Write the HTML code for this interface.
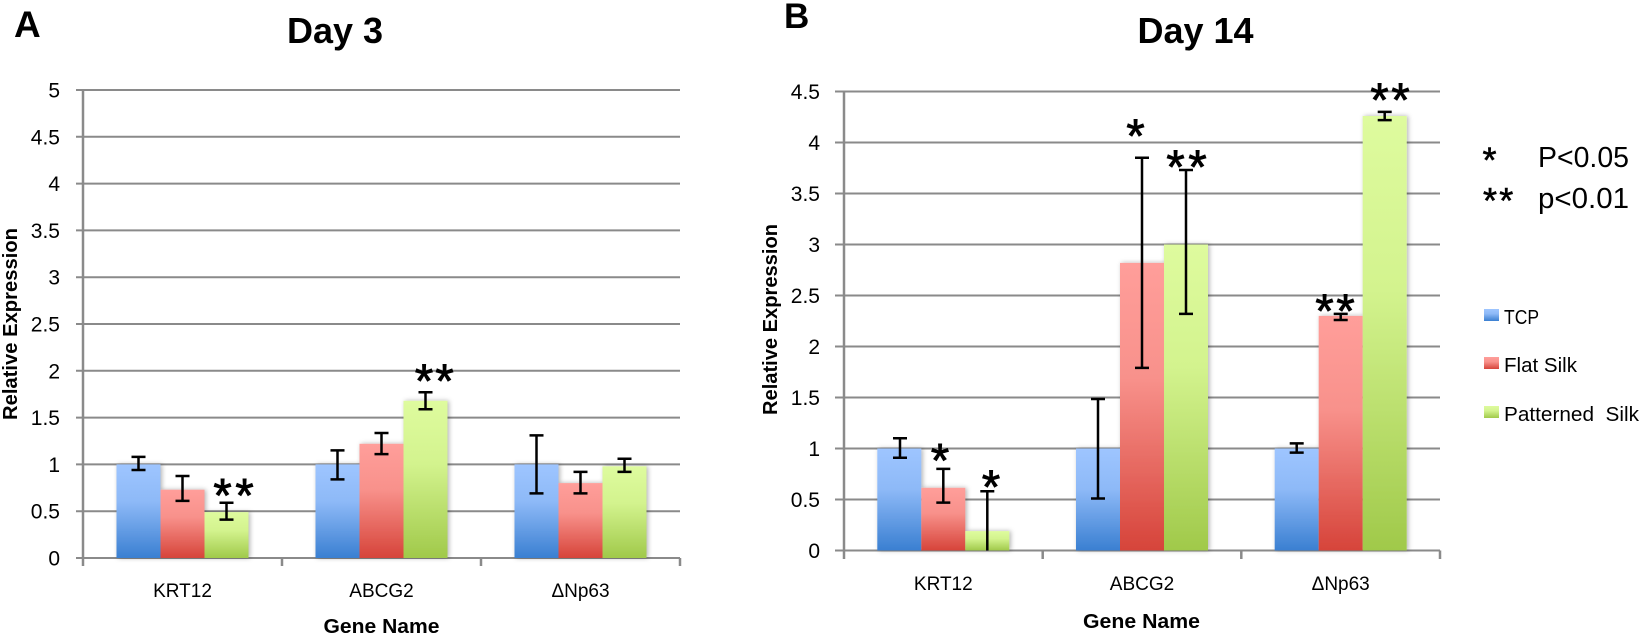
<!DOCTYPE html>
<html><head><meta charset="utf-8"><style>
html,body{margin:0;padding:0;background:#fff;}
svg{display:block;}
text{font-family:"Liberation Sans",Arial,sans-serif;fill:#000;}
.tk{font-size:21px;text-anchor:end;}
.xl{font-size:19px;text-anchor:middle;}
.st{font-size:47px;text-anchor:middle;stroke:#000;stroke-width:0.9;}
.grid{stroke:#8a8a8a;stroke-width:2;}
.ax{stroke:#8a8a8a;stroke-width:2.5;}
.eb{stroke:#000;stroke-width:2.5;fill:none;}
</style></head><body>
<svg width="1640" height="636" viewBox="0 0 1640 636" xmlns="http://www.w3.org/2000/svg">
<defs>
<linearGradient id="gb" x1="0" y1="0" x2="0" y2="1"><stop offset="0" stop-color="#9ec5ff"/><stop offset="0.4" stop-color="#8db9f7"/><stop offset="1" stop-color="#3a7fd1"/></linearGradient>
<linearGradient id="gr" x1="0" y1="0" x2="0" y2="1"><stop offset="0" stop-color="#ff9e9a"/><stop offset="0.4" stop-color="#f8918b"/><stop offset="1" stop-color="#d6443a"/></linearGradient>
<linearGradient id="gg" x1="0" y1="0" x2="0" y2="1"><stop offset="0" stop-color="#defb9e"/><stop offset="0.4" stop-color="#d3f38e"/><stop offset="1" stop-color="#a0c94a"/></linearGradient>
<filter id="sh" x="-30%" y="-5%" width="160%" height="110%"><feDropShadow dx="1.5" dy="0" stdDeviation="2.5" flood-color="#000" flood-opacity="0.3"/></filter>
</defs>

<!-- ============ LEFT CHART ============ -->
<text x="14" y="37" style="font-size:37px;font-weight:bold">A</text>
<text x="335" y="43" style="font-size:36px;font-weight:bold;text-anchor:middle">Day 3</text>

<g class="grid">
<line x1="76" y1="90" x2="680" y2="90"/>
<line x1="76" y1="136.8" x2="680" y2="136.8"/>
<line x1="76" y1="183.6" x2="680" y2="183.6"/>
<line x1="76" y1="230.4" x2="680" y2="230.4"/>
<line x1="76" y1="277.2" x2="680" y2="277.2"/>
<line x1="76" y1="324" x2="680" y2="324"/>
<line x1="76" y1="370.8" x2="680" y2="370.8"/>
<line x1="76" y1="417.6" x2="680" y2="417.6"/>
<line x1="76" y1="464.4" x2="680" y2="464.4"/>
<line x1="76" y1="511.2" x2="680" y2="511.2"/>
<line x1="76" y1="558" x2="680" y2="558"/>
</g>
<g class="ax">
<line x1="83" y1="89" x2="83" y2="566"/>
<line x1="282" y1="558" x2="282" y2="566"/>
<line x1="481" y1="558" x2="481" y2="566"/>
<line x1="680" y1="558" x2="680" y2="566"/>
</g>

<g class="tk">
<text x="60" y="97.5">5</text>
<text x="60" y="144.3">4.5</text>
<text x="60" y="191.1">4</text>
<text x="60" y="237.9">3.5</text>
<text x="60" y="284.7">3</text>
<text x="60" y="331.5">2.5</text>
<text x="60" y="378.3">2</text>
<text x="60" y="425.1">1.5</text>
<text x="60" y="471.9">1</text>
<text x="60" y="518.7">0.5</text>
<text x="60" y="565.5">0</text>
</g>

<g filter="url(#sh)">
<rect x="116.5" y="464.4" width="44" height="93.6" fill="url(#gb)"/>
<rect x="160.5" y="489.7" width="44" height="68.3" fill="url(#gr)"/>
<rect x="204.5" y="512.1" width="44" height="45.9" fill="url(#gg)"/>
<rect x="315.5" y="464.4" width="44" height="93.6" fill="url(#gb)"/>
<rect x="359.5" y="443.8" width="44" height="114.2" fill="url(#gr)"/>
<rect x="403.5" y="400.8" width="44" height="157.2" fill="url(#gg)"/>
<rect x="514.5" y="464.4" width="44" height="93.6" fill="url(#gb)"/>
<rect x="558.5" y="483.1" width="44" height="74.9" fill="url(#gr)"/>
<rect x="602.5" y="466.3" width="44" height="91.7" fill="url(#gg)"/>
</g>

<g class="eb">
<path d="M138.5 456.9V470M131.5 456.9H145.5M131.5 470H145.5"/>
<path d="M182.5 476V500.9M175.5 476H189.5M175.5 500.9H189.5"/>
<path d="M226.5 502.8V519.6M219.5 502.8H233.5M219.5 519.6H233.5"/>
<path d="M337.5 450.4V479.4M330.5 450.4H344.5M330.5 479.4H344.5"/>
<path d="M381.5 433V454.1M374.5 433H388.5M374.5 454.1H388.5"/>
<path d="M425.5 392.3V409.2M418.5 392.3H432.5M418.5 409.2H432.5"/>
<path d="M536.5 435.4V493.4M529.5 435.4H543.5M529.5 493.4H543.5"/>
<path d="M580.5 471.9V493.4M573.5 471.9H587.5M573.5 493.4H587.5"/>
<path d="M624.5 458.8V471.9M617.5 458.8H631.5M617.5 471.9H631.5"/>
</g>

<g class="st">
<text x="222.5" y="511.3">*</text><text x="244.5" y="511.3">*</text>
<text x="424" y="396.8">*</text><text x="444.5" y="396.8">*</text>
</g>

<g class="xl">
<text x="182.5" y="597">KRT12</text>
<text x="381.5" y="597">ABCG2</text>
<text x="580.5" y="597">ΔNp63</text>
</g>
<text x="381.5" y="633" style="font-size:20px;font-weight:bold;text-anchor:middle" textLength="116" lengthAdjust="spacingAndGlyphs">Gene Name</text>
<text transform="translate(17,324) rotate(-90)" style="font-size:20px;font-weight:bold;text-anchor:middle" textLength="192" lengthAdjust="spacingAndGlyphs">Relative Expression</text>

<!-- ============ RIGHT CHART ============ -->
<text x="784" y="28" style="font-size:35px;font-weight:bold">B</text>
<text x="1195.5" y="43" style="font-size:36px;font-weight:bold;text-anchor:middle">Day 14</text>

<g class="grid">
<line x1="835" y1="91.5" x2="1440" y2="91.5"/>
<line x1="835" y1="142.5" x2="1440" y2="142.5"/>
<line x1="835" y1="193.5" x2="1440" y2="193.5"/>
<line x1="835" y1="244.5" x2="1440" y2="244.5"/>
<line x1="835" y1="295.5" x2="1440" y2="295.5"/>
<line x1="835" y1="346.5" x2="1440" y2="346.5"/>
<line x1="835" y1="397.5" x2="1440" y2="397.5"/>
<line x1="835" y1="448.5" x2="1440" y2="448.5"/>
<line x1="835" y1="499.5" x2="1440" y2="499.5"/>
<line x1="835" y1="550.5" x2="1440" y2="550.5"/>
</g>
<g class="ax">
<line x1="844" y1="90.5" x2="844" y2="559"/>
<line x1="1042.7" y1="550.5" x2="1042.7" y2="559"/>
<line x1="1241.3" y1="550.5" x2="1241.3" y2="559"/>
<line x1="1440" y1="550.5" x2="1440" y2="559"/>
</g>

<g class="tk">
<text x="820" y="99">4.5</text>
<text x="820" y="150">4</text>
<text x="820" y="201">3.5</text>
<text x="820" y="252">3</text>
<text x="820" y="303">2.5</text>
<text x="820" y="354">2</text>
<text x="820" y="405">1.5</text>
<text x="820" y="456">1</text>
<text x="820" y="507">0.5</text>
<text x="820" y="558">0</text>
</g>

<g filter="url(#sh)">
<rect x="877.3" y="448.5" width="44" height="102" fill="url(#gb)"/>
<rect x="921.3" y="487.8" width="44" height="62.7" fill="url(#gr)"/>
<rect x="965.3" y="531.1" width="44" height="19.4" fill="url(#gg)"/>
<rect x="1076" y="448.5" width="44" height="102" fill="url(#gb)"/>
<rect x="1120" y="262.9" width="44" height="287.6" fill="url(#gr)"/>
<rect x="1164" y="244.5" width="44" height="306" fill="url(#gg)"/>
<rect x="1274.7" y="448.5" width="44" height="102" fill="url(#gb)"/>
<rect x="1318.7" y="315.9" width="44" height="234.6" fill="url(#gr)"/>
<rect x="1362.7" y="116" width="44" height="434.5" fill="url(#gg)"/>
</g>

<g class="eb">
<path d="M900 438.3V457.7M893 438.3H907M893 457.7H907"/>
<path d="M943.3 468.9V502.6M936.3 468.9H950.3M936.3 502.6H950.3"/>
<path d="M987.3 491.3V550.5M980.3 491.3H994.3"/>
<path d="M1098 399V498.5M1091 399H1105M1091 498.5H1105"/>
<path d="M1142 157.8V367.9M1135 157.8H1149M1135 367.9H1149"/>
<path d="M1186 170V313.9M1179 170H1193M1179 313.9H1193"/>
<path d="M1296.7 443.4V452.6M1289.7 443.4H1303.7M1289.7 452.6H1303.7"/>
<path d="M1340.7 313.9V320M1333.7 313.9H1347.7M1333.7 320H1347.7"/>
<path d="M1384.7 111.9V120.1M1377.7 111.9H1391.7M1377.7 120.1H1391.7"/>
</g>

<g class="st">
<text x="940" y="476.3">*</text>
<text x="991" y="502.8">*</text>
<text x="1135.5" y="152.1">*</text>
<text x="1175.5" y="183">*</text><text x="1197.5" y="183">*</text>
<text x="1324.5" y="327.1">*</text><text x="1345.5" y="327.1">*</text>
<text x="1379.5" y="115.8">*</text><text x="1400.5" y="115.8">*</text>
</g>

<g class="xl">
<text x="943.3" y="590">KRT12</text>
<text x="1142" y="590">ABCG2</text>
<text x="1340.7" y="590">ΔNp63</text>
</g>
<text x="1141.5" y="628" style="font-size:20px;font-weight:bold;text-anchor:middle" textLength="117" lengthAdjust="spacingAndGlyphs">Gene Name</text>
<text transform="translate(777,319.5) rotate(-90)" style="font-size:20px;font-weight:bold;text-anchor:middle" textLength="191" lengthAdjust="spacingAndGlyphs">Relative Expression</text>

<!-- p-value key -->
<g style="font-size:36px;text-anchor:middle;stroke:#000;stroke-width:0.6">
<text x="1489.5" y="172.5">*</text>
<text x="1490" y="213">*</text><text x="1506.3" y="213">*</text>
</g>
<text x="1538" y="167" style="font-size:29px" textLength="91" lengthAdjust="spacingAndGlyphs">P&lt;0.05</text>
<text x="1538" y="208" style="font-size:29px" textLength="91" lengthAdjust="spacingAndGlyphs">p&lt;0.01</text>

<!-- legend -->
<rect x="1484" y="309" width="15" height="12" fill="url(#gb)"/>
<rect x="1484" y="357" width="15" height="12" fill="url(#gr)"/>
<rect x="1484" y="406" width="15" height="12" fill="url(#gg)"/>
<text x="1504" y="324" style="font-size:20px" textLength="35" lengthAdjust="spacingAndGlyphs">TCP</text>
<text x="1504" y="372" style="font-size:20px" textLength="73" lengthAdjust="spacingAndGlyphs">Flat Silk</text>
<text x="1504" y="421" style="font-size:20px;white-space:pre" textLength="135" lengthAdjust="spacingAndGlyphs">Patterned  Silk</text>
</svg>
</body></html>
